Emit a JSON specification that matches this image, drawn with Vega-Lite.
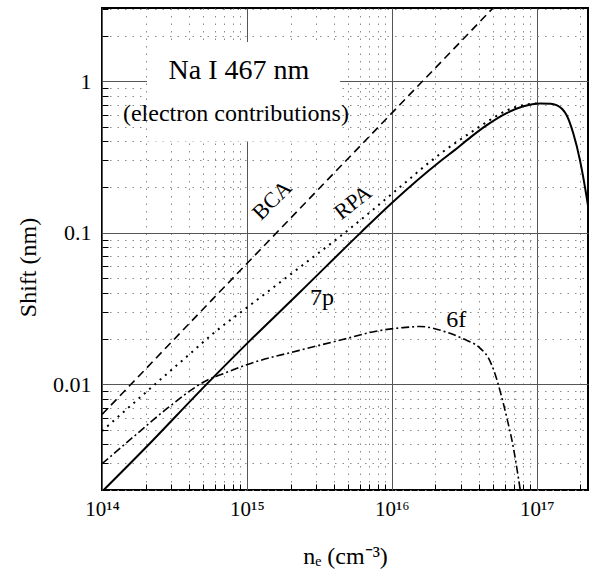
{
  "$schema": "https://vega.github.io/schema/vega-lite/v6.json",
  "width": 486,
  "height": 482,
  "autosize": {"type": "none"},
  "padding": {"left": 102, "top": 8, "right": 1, "bottom": 86},
  "background": "white",
  "config": {
    "view": {"stroke": "black", "strokeWidth": 2},
    "font": "Liberation Serif",
    "text": {"font": "Liberation Serif", "color": "black"}
  },
  "datasets": {
    "curves": [
      {"s": "BCA", "ne": 1e14, "shift": 0.0063},
      {"s": "BCA", "ne": 1e15, "shift": 0.0625},
      {"s": "BCA", "ne": 1e16, "shift": 0.615},
      {"s": "BCA", "ne": 5e16, "shift": 3.04},

      {"s": "RPA", "ne": 1e14, "shift": 0.0049},
      {"s": "RPA", "ne": 2e14, "shift": 0.0088},
      {"s": "RPA", "ne": 4e14, "shift": 0.0157},
      {"s": "RPA", "ne": 6e14, "shift": 0.022},
      {"s": "RPA", "ne": 1e15, "shift": 0.032},
      {"s": "RPA", "ne": 2e15, "shift": 0.053},
      {"s": "RPA", "ne": 2.87e15, "shift": 0.069},
      {"s": "RPA", "ne": 4.75e15, "shift": 0.1},
      {"s": "RPA", "ne": 1e16, "shift": 0.18},
      {"s": "RPA", "ne": 2.2e16, "shift": 0.336},
      {"s": "RPA", "ne": 3.65e16, "shift": 0.47},
      {"s": "RPA", "ne": 4.5e16, "shift": 0.536},
      {"s": "RPA", "ne": 6.2e16, "shift": 0.64},
      {"s": "RPA", "ne": 8e16, "shift": 0.694},
      {"s": "RPA", "ne": 1.055e17, "shift": 0.714},

      {"s": "7p", "ne": 1e14, "shift": 0.00195},
      {"s": "7p", "ne": 2e14, "shift": 0.0038},
      {"s": "7p", "ne": 5.28e14, "shift": 0.01},
      {"s": "7p", "ne": 1e15, "shift": 0.0185},
      {"s": "7p", "ne": 2.32e15, "shift": 0.0404},
      {"s": "7p", "ne": 6.1e15, "shift": 0.1},
      {"s": "7p", "ne": 1e16, "shift": 0.157},
      {"s": "7p", "ne": 2.15e16, "shift": 0.295},
      {"s": "7p", "ne": 2.73e16, "shift": 0.352},
      {"s": "7p", "ne": 3.65e16, "shift": 0.44},
      {"s": "7p", "ne": 4.5e16, "shift": 0.51},
      {"s": "7p", "ne": 6.2e16, "shift": 0.615},
      {"s": "7p", "ne": 8e16, "shift": 0.68},
      {"s": "7p", "ne": 1.055e17, "shift": 0.713},
      {"s": "7p", "ne": 1.25e17, "shift": 0.71},
      {"s": "7p", "ne": 1.37e17, "shift": 0.694},
      {"s": "7p", "ne": 1.5e17, "shift": 0.655},
      {"s": "7p", "ne": 1.61e17, "shift": 0.596},
      {"s": "7p", "ne": 1.79e17, "shift": 0.451},
      {"s": "7p", "ne": 1.99e17, "shift": 0.3},
      {"s": "7p", "ne": 2.21e17, "shift": 0.172},
      {"s": "7p", "ne": 2.26e17, "shift": 0.15},

      {"s": "6f", "ne": 1e14, "shift": 0.00298},
      {"s": "6f", "ne": 1.64e14, "shift": 0.00447},
      {"s": "6f", "ne": 2.8e14, "shift": 0.00688},
      {"s": "6f", "ne": 5.28e14, "shift": 0.01057},
      {"s": "6f", "ne": 7e14, "shift": 0.0118},
      {"s": "6f", "ne": 1.05e15, "shift": 0.01365},
      {"s": "6f", "ne": 2.3e15, "shift": 0.0167},
      {"s": "6f", "ne": 4.5e15, "shift": 0.0196},
      {"s": "6f", "ne": 8.3e15, "shift": 0.0226},
      {"s": "6f", "ne": 1.2e16, "shift": 0.0236},
      {"s": "6f", "ne": 1.57e16, "shift": 0.024},
      {"s": "6f", "ne": 2.39e16, "shift": 0.022},
      {"s": "6f", "ne": 3.12e16, "shift": 0.0199},
      {"s": "6f", "ne": 4.06e16, "shift": 0.0173},
      {"s": "6f", "ne": 4.64e16, "shift": 0.0149},
      {"s": "6f", "ne": 5.16e16, "shift": 0.01167},
      {"s": "6f", "ne": 5.58e16, "shift": 0.00906},
      {"s": "6f", "ne": 6.21e16, "shift": 0.00604},
      {"s": "6f", "ne": 6.9e16, "shift": 0.00382},
      {"s": "6f", "ne": 7.47e16, "shift": 0.00242},
      {"s": "6f", "ne": 7.7e16, "shift": 0.002}
    ]
  },
  "encoding": {
    "x": {
      "field": "ne",
      "type": "quantitative",
      "scale": {"type": "log", "domain": [1e14, 2.26e17], "nice": false, "zero": false},
      "axis": {
        "values": [1e14, 2e14, 3e14, 4e14, 5e14, 6e14, 7e14, 8e14, 9e14, 1e15, 2e15, 3e15, 4e15, 5e15, 6e15, 7e15, 8e15, 9e15, 1e16, 2e16, 3e16, 4e16, 5e16, 6e16, 7e16, 8e16, 9e16, 1e17, 2e17],
        "labelExpr": "datum.value == 1e14 ? '10¹⁴' : datum.value == 1e15 ? '10¹⁵' : datum.value == 1e16 ? '10¹⁶' : datum.value == 1e17 ? '10¹⁷' : ''",
        "labelFont": "Liberation Serif",
        "labelFontSize": 21,
        "labelColor": "black",
        "labelPadding": 14,
        "labelFlush": false,
        "labelOverlap": false,
        "domain": false,
        "ticks": true,
        "tickSize": -6,
        "tickColor": "black",
        "tickWidth": 1,
        "tickOpacity": {"condition": {"test": "datum.value == 1e14 || datum.value == 1e15 || datum.value == 1e16 || datum.value == 1e17", "value": 0}, "value": 1},
        "grid": true,
        "gridColor": {"condition": {"test": "datum.value == 1e14 || datum.value == 1e15 || datum.value == 1e16 || datum.value == 1e17", "value": "#555555"}, "value": "#8a8a8a"},
        "gridDash": {"condition": {"test": "datum.value == 1e14 || datum.value == 1e15 || datum.value == 1e16 || datum.value == 1e17", "value": []}, "value": [1.5, 6]},
        "gridWidth": 1,
        "gridOpacity": 1,
        "title": "nₑ (cm⁻³)",
        "titleFont": "Liberation Serif",
        "titleFontSize": 24,
        "titleFontWeight": "normal",
        "titleColor": "black",
        "titleX": 243,
        "titleY": 73,
        "titleAlign": "center",
        "titleBaseline": "alphabetic"
      }
    },
    "y": {
      "field": "shift",
      "type": "quantitative",
      "scale": {"type": "log", "domain": [0.002, 3.04], "nice": false, "zero": false},
      "axis": {
        "values": [0.002, 0.003, 0.004, 0.005, 0.006, 0.007, 0.008, 0.009, 0.01, 0.02, 0.03, 0.04, 0.05, 0.06, 0.07, 0.08, 0.09, 0.1, 0.2, 0.3, 0.4, 0.5, 0.6, 0.7, 0.8, 0.9, 1, 2, 3],
        "labelExpr": "datum.value == 1 ? '1' : datum.value == 0.1 ? '0.1' : datum.value == 0.01 ? '0.01' : ''",
        "labelFont": "Liberation Serif",
        "labelFontSize": 22,
        "labelColor": "black",
        "labelPadding": 17,
        "labelFlush": false,
        "labelOverlap": false,
        "domain": false,
        "ticks": true,
        "tickSize": -6,
        "tickColor": "black",
        "tickWidth": 1,
        "tickOpacity": {"condition": {"test": "datum.value == 0.01 || datum.value == 0.1 || datum.value == 1", "value": 0}, "value": 1},
        "grid": true,
        "gridColor": {"condition": {"test": "datum.value == 0.01 || datum.value == 0.1 || datum.value == 1", "value": "#555555"}, "value": "#8a8a8a"},
        "gridDash": {"condition": {"test": "datum.value == 0.01 || datum.value == 0.1 || datum.value == 1", "value": []}, "value": [1.5, 6]},
        "gridWidth": 1,
        "gridOpacity": 1,
        "title": "Shift (nm)",
        "titleFont": "Liberation Serif",
        "titleFontSize": 24,
        "titleFontWeight": "normal",
        "titleColor": "black",
        "titleX": -67,
        "titleY": 259,
        "titleAngle": 270,
        "titleAlign": "center",
        "titleBaseline": "alphabetic"
      }
    }
  },
  "layer": [
    {
      "data": {"values": [{"ne": 2.045e14, "ne2": 4.4e15, "shift": 1.81, "shift2": 0.4}]},
      "mark": {"type": "rect", "color": "white", "stroke": null},
      "encoding": {"x2": {"field": "ne2"}, "y2": {"field": "shift2"}}
    },
    {
      "data": {"name": "curves"},
      "transform": [{"filter": "datum.s == 'BCA'"}],
      "mark": {"type": "line", "color": "black", "strokeWidth": 1.6, "strokeDash": [8, 5], "clip": true, "interpolate": "monotone"},
      "encoding": {}
    },
    {
      "data": {"name": "curves"},
      "transform": [{"filter": "datum.s == 'RPA'"}],
      "mark": {"type": "line", "color": "black", "strokeWidth": 2, "strokeDash": [2, 5], "clip": true, "interpolate": "monotone"},
      "encoding": {}
    },
    {
      "data": {"name": "curves"},
      "transform": [{"filter": "datum.s == '7p'"}],
      "mark": {"type": "line", "color": "black", "strokeWidth": 2, "clip": true, "interpolate": "monotone"},
      "encoding": {}
    },
    {
      "data": {"name": "curves"},
      "transform": [{"filter": "datum.s == '6f'"}],
      "mark": {"type": "line", "color": "black", "strokeWidth": 1.6, "strokeDash": [8, 3, 2, 3], "clip": true, "interpolate": "monotone"},
      "encoding": {}
    },
    {
      "data": {"values": [{"ne": 8.8e14, "shift": 1.04, "label": "Na I 467 nm"}]},
      "mark": {"type": "text", "font": "Liberation Serif", "fontSize": 28, "align": "center", "baseline": "alphabetic", "color": "black"},
      "encoding": {"text": {"field": "label"}}
    },
    {
      "data": {"values": [{"ne": 8.4e14, "shift": 0.544, "label": "(electron contributions)"}]},
      "mark": {"type": "text", "font": "Liberation Serif", "fontSize": 24, "align": "center", "baseline": "alphabetic", "color": "black"},
      "encoding": {"text": {"field": "label"}}
    },
    {
      "data": {"values": [{"ne": 1.49e15, "shift": 0.1636, "label": "BCA"}]},
      "mark": {"type": "text", "font": "Liberation Serif", "fontSize": 22, "align": "center", "baseline": "middle", "angle": 315, "color": "black"},
      "encoding": {"text": {"field": "label"}}
    },
    {
      "data": {"values": [{"ne": 5.4e15, "shift": 0.1585, "label": "RPA"}]},
      "mark": {"type": "text", "font": "Liberation Serif", "fontSize": 22, "align": "center", "baseline": "middle", "angle": 322, "color": "black"},
      "encoding": {"text": {"field": "label"}}
    },
    {
      "data": {"values": [{"ne": 3.3e15, "shift": 0.0331, "label": "7p"}, {"ne": 2.78e16, "shift": 0.0238, "label": "6f"}]},
      "mark": {"type": "text", "font": "Liberation Serif", "fontSize": 24, "align": "center", "baseline": "alphabetic", "color": "black"},
      "encoding": {"text": {"field": "label"}}
    }
  ]
}
